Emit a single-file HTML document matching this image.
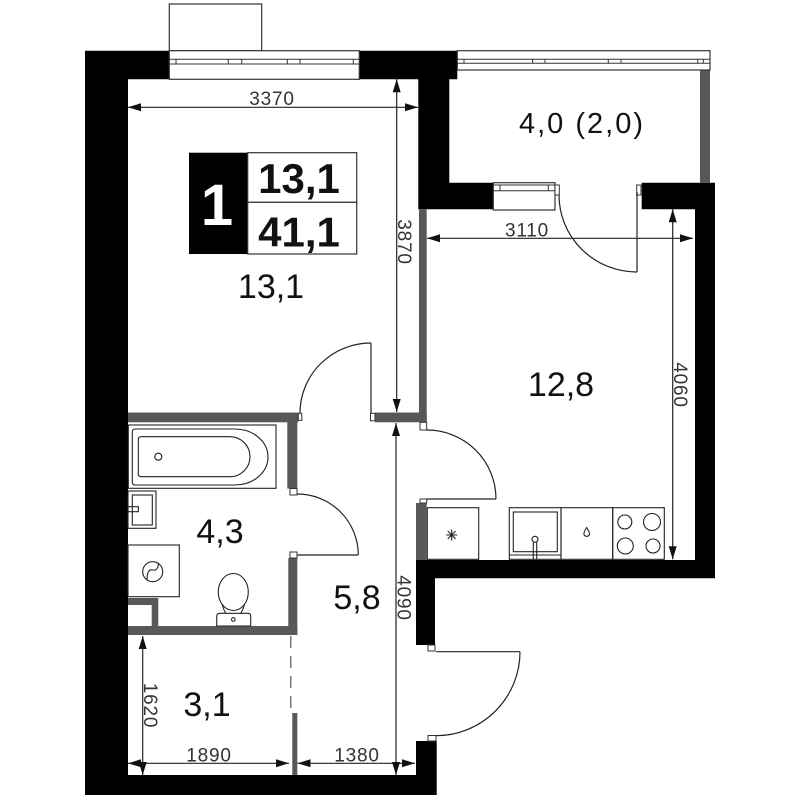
<!DOCTYPE html>
<html><head><meta charset="utf-8"><style>
html,body{margin:0;padding:0;background:#fff;}
svg{display:block;}
text{font-family:"Liberation Sans",sans-serif;}
</style></head><body>
<svg width="800" height="800" viewBox="0 0 800 800" xmlns="http://www.w3.org/2000/svg">
<rect width="800" height="800" fill="#fff"/>

<!-- black walls -->
<path d="M85,50.7 H169.3 V79.3 H128 V775 H416 V741 H436.7 V795 H85 Z" fill="#000"/>
<path d="M359.3,50.7 H457.3 V79.3 H449.3 V182.7 H493.3 V209.3 H418.3 V79.3 H359.3 Z" fill="#000"/>
<path d="M641.7,182.7 H715 V578.3 H435 V645 H416 V560 H695 V209.3 H641.7 Z" fill="#000"/>

<!-- gray partitions -->
<g fill="#585858">
<rect x="419" y="209.3" width="7.7" height="213"/>
<rect x="375" y="412.5" width="51.7" height="9.8"/>
<rect x="128" y="412.5" width="170.3" height="9.8"/>
<rect x="287.3" y="412.5" width="10" height="76"/>
<rect x="288.3" y="558" width="9" height="77"/>
<rect x="128" y="626" width="169.3" height="9"/>
<rect x="128" y="598" width="30.3" height="28"/>
<rect x="292.3" y="713" width="5" height="62"/>
<rect x="416" y="503" width="10.7" height="57"/>
<rect x="700" y="70" width="10" height="113"/>
</g>
<rect x="128" y="605" width="23.7" height="21" fill="#fff"/>
<line x1="290.7" y1="636" x2="290.7" y2="713" stroke="#777" stroke-width="1.5" stroke-dasharray="12 8"/>

<!-- windows -->
<g fill="#fff" stroke="#333" stroke-width="1.2">
<rect x="169.3" y="4" width="92.4" height="46.7"/>
<rect x="169.3" y="50.7" width="190" height="28.6"/>
<rect x="457.3" y="50.7" width="252.7" height="19.3"/>
<rect x="493.3" y="182.7" width="61.7" height="27.3"/>
</g>
<g stroke="#333" stroke-width="1" fill="none">
<line x1="169.3" y1="59.3" x2="359.3" y2="59.3"/><line x1="169.3" y1="64" x2="359.3" y2="64"/>
<path d="M176,59.3V64M228.3,59.3V64M241.7,59.3V64M287.3,59.3V64M300,59.3V64M353.3,59.3V64"/>
<line x1="457.3" y1="59.3" x2="710" y2="59.3"/><line x1="457.3" y1="63.3" x2="710" y2="63.3"/>
<path d="M464,59.3V63.3M532.7,59.3V63.3M545,59.3V63.3M608.3,59.3V63.3M621,59.3V63.3M697.7,59.3V63.3M703.3,59.3V63.3"/>
<line x1="493.3" y1="185" x2="555" y2="185"/><line x1="493.3" y1="190.7" x2="555" y2="190.7"/>
<path d="M500,185V190.7M548.3,185V190.7"/>
</g>

<!-- jambs -->
<g fill="#fff" stroke="#333" stroke-width="1">
<rect x="298.3" y="413.3" width="3.5" height="7"/>
<rect x="370.5" y="413.3" width="4.5" height="7.5"/>
<rect x="420" y="422.3" width="6.7" height="7.7"/>
<rect x="290" y="488.5" width="7" height="6.5"/>
<rect x="290" y="552" width="7" height="6"/>
<rect x="420" y="499" width="6.7" height="4"/>
<rect x="428" y="645" width="7" height="6"/>
<rect x="428" y="735.5" width="8" height="5.5"/>
<rect x="555" y="185" width="4.3" height="10"/>
<rect x="636.7" y="185" width="4.3" height="10"/>
</g>

<!-- doors -->
<g fill="none" stroke="#222" stroke-width="1.2">
<line x1="371" y1="343" x2="371" y2="413"/>
<path d="M371,343 A71,70 0 0 0 300,413"/>
<line x1="426.7" y1="499" x2="496" y2="499"/>
<path d="M426.7,430 A69,69 0 0 1 496,499"/>
<line x1="297.3" y1="555" x2="358.3" y2="555"/>
<path d="M297.3,494 A61,61 0 0 1 358.3,555"/>
<line x1="436" y1="651.7" x2="520" y2="651.7"/>
<path d="M520,651.7 A84,84 0 0 1 436,735.7"/>
<line x1="637" y1="192" x2="637" y2="272"/>
<path d="M559,195 A78,77 0 0 0 637,272"/>
</g>

<!-- bathroom fixtures -->
<g fill="none" stroke="#222" stroke-width="1.1">
<rect x="128.3" y="425" width="147.7" height="63.3"/>
<path d="M135,429 H235 A33,28 0 0 1 235,485 H135 Q132.3,485 132.3,482 V432 Q132.3,429 135,429 Z"/>
<path d="M141,436.7 H230 A20,20 0 0 1 230,476.7 H141 Q138.3,476.7 138.3,474 V439.4 Q138.3,436.7 141,436.7 Z"/>
<circle cx="158.3" cy="456.7" r="3.5"/>
<rect x="128" y="491" width="28" height="37.3"/>
<rect x="132.3" y="495" width="20" height="30"/>
<rect x="128" y="506.7" width="10.3" height="5"/>
<rect x="128" y="545" width="51.3" height="51.7"/>
<circle cx="152.7" cy="571.7" r="10"/>
<path d="M147,580 C147,572 149,569 153,570 C157,571 159,566 158,563"/>
<ellipse cx="233.3" cy="592" rx="15" ry="18.5"/>
<path d="M222,604 Q224,611 226,613.3 M244.6,604 Q242.6,611 240.6,613.3"/>
<path d="M216.7,626 V616.3 Q216.7,613.3 219.7,613.3 H247.7 Q250.7,613.3 250.7,616.3 V626 Z" fill="#fff"/>
<circle cx="233.3" cy="619.5" r="1.8"/>
</g>

<!-- kitchen -->
<g fill="none" stroke="#222" stroke-width="1.1">
<rect x="427.3" y="507.7" width="51.4" height="51.6"/>
<path d="M451.7,529.5V540.5M446.2,535H457.2M447.8,531.1L455.6,538.9M455.6,531.1L447.8,538.9"/>
<rect x="509.3" y="507.7" width="51.7" height="51.6"/>
<rect x="513.3" y="512" width="44" height="39.7"/>
<line x1="509.3" y1="555" x2="561" y2="555"/>
<circle cx="535" cy="539.3" r="3" fill="#fff"/>
<path d="M533.3,542.2V559.3M536.7,542.2V559.3"/>
<rect x="561" y="507.7" width="51.7" height="51.6"/>
<path d="M586.7,527.5 C584.5,531 583.5,533 584,534.5 A2.9,2.9 0 0 0 589.4,534.5 C589.9,533 588.9,531 586.7,527.5 Z"/>
<rect x="612.7" y="507.7" width="51.6" height="51.6"/>
<circle cx="624.8" cy="522" r="7"/>
<circle cx="652" cy="522" r="8.5"/>
<circle cx="625.3" cy="546" r="8"/>
<circle cx="653" cy="546" r="7"/>
</g>

<!-- dimension lines -->
<g stroke="#222" stroke-width="1.2" fill="none">
<line x1="128" y1="107.3" x2="418" y2="107.3"/>
<line x1="396.7" y1="79.3" x2="396.7" y2="412"/>
<line x1="427" y1="238.3" x2="693" y2="238.3"/>
<line x1="672.7" y1="209.3" x2="672.7" y2="559.3"/>
<line x1="396" y1="423" x2="396" y2="775"/>
<line x1="142.7" y1="636" x2="142.7" y2="775"/>
<line x1="128" y1="763.3" x2="289" y2="763.3"/>
<line x1="297.5" y1="763.3" x2="415" y2="763.3"/>
</g>
<g fill="#111">
<polygon points="128,107.3 141,103.3 141,111.3"/>
<polygon points="418,107.3 405,103.3 405,111.3"/>
<polygon points="396.7,79.3 392.7,92.3 400.7,92.3"/>
<polygon points="396.7,412 392.7,399 400.7,399"/>
<polygon points="427,238.3 440,234.3 440,242.3"/>
<polygon points="693,238.3 680,234.3 680,242.3"/>
<polygon points="672.7,209.3 668.7,222.3 676.7,222.3"/>
<polygon points="672.7,559.3 668.7,546.3 676.7,546.3"/>
<polygon points="396,423 392,436 400,436"/>
<polygon points="396,775 392,762 400,762"/>
<polygon points="142.7,636 138.7,649 146.7,649"/>
<polygon points="142.7,775 138.7,762 146.7,762"/>
<polygon points="128,763.3 141,759.3 141,767.3"/>
<polygon points="289,763.3 276,759.3 276,767.3"/>
<polygon points="297.5,763.3 310.5,759.3 310.5,767.3"/>
<polygon points="415,763.3 402,759.3 402,767.3"/>
</g>

<!-- dimension texts -->
<g font-size="19" fill="#333" text-anchor="middle" letter-spacing="0.8">
<text x="272" y="105">3370</text>
<text x="527" y="236.5">3110</text>
<text x="209" y="761.5">1890</text>
<text x="357" y="761.5">1380</text>
<text transform="translate(398,242) rotate(90)">3870</text>
<text transform="translate(674,385) rotate(90)">4060</text>
<text transform="translate(397.5,598) rotate(90)">4090</text>
<text transform="translate(144,705.5) rotate(90)">1620</text>
</g>

<!-- label box -->
<rect x="189" y="152.7" width="58.7" height="101.3" fill="#000"/>
<rect x="247.7" y="152.7" width="109" height="49.6" fill="#fff" stroke="#333" stroke-width="1.2"/>
<rect x="247.7" y="202.3" width="109" height="51.7" fill="#fff" stroke="#333" stroke-width="1.2"/>
<text x="217" y="225" font-size="58" font-weight="bold" fill="#fff" text-anchor="middle">1</text>
<text x="299" y="193" font-size="42" font-weight="bold" fill="#111" text-anchor="middle">13,1</text>
<text x="299" y="246.5" font-size="42" font-weight="bold" fill="#111" text-anchor="middle">41,1</text>

<!-- room labels -->
<g font-size="34" fill="#111" text-anchor="middle">
<text x="271" y="298">13,1</text>
<text x="561" y="396">12,8</text>
<text x="220" y="543">4,3</text>
<text x="357" y="609">5,8</text>
<text x="207" y="716">3,1</text>
</g>
<text x="582" y="133" font-size="29" fill="#111" text-anchor="middle" letter-spacing="2">4,0 (2,0)</text>
</svg>
</body></html>
